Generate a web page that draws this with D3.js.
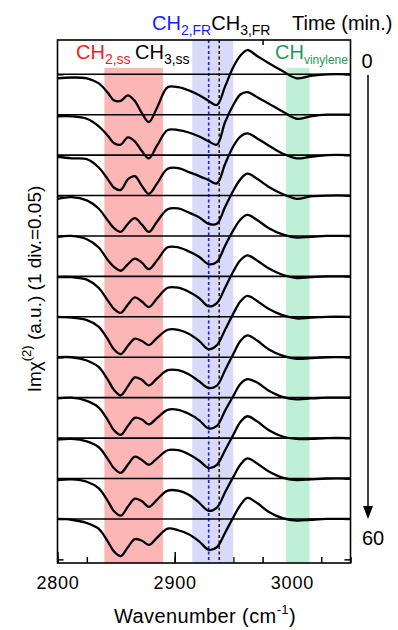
<!DOCTYPE html>
<html>
<head>
<meta charset="utf-8">
<script src="https://cdn.jsdelivr.net/npm/d3@7"></script>
<style>
  body { margin: 0; background: #fff; }
  svg { display: block; font-family: "Liberation Sans", Arial, sans-serif; }
</style>
</head>
<body>
<svg id="chart" width="398" height="630"></svg>
<script>
// wavenumber grid (cm-1) the spectra were read at
const wavenumber = [2800, 2812, 2825, 2835, 2843, 2848, 2854, 2860, 2866, 2872, 2878, 2885, 2894, 2903, 2912, 2921, 2929, 2936, 2943, 2950, 2956, 2962, 2970, 2980, 2992, 3004, 3016, 3030, 3050];

// Im chi(2) in 1e-3 a.u., top spectrum (0 min) first
const spec01 = [-5, -4, -5, -11, -23, -32, -33, -26, -33, -48, -59, -41, -16, -16, -20, -26, -33, -38, -15, 9, 23, 30, 23, 14, 4, -5, -2, 0, 0];
const spec02 = [-2, -2, -5, -14, -26, -35, -37, -28, -33, -45, -54, -38, -19, -19, -22, -27, -33, -37, -9, 12, 25, 28, 22, 14, 4, -5, -2, 0, 0];
const spec03 = [-2, -4, -5, -15, -30, -40, -43, -30, -26, -38, -48, -35, -17, -16, -21, -26, -31, -35, -11, 11, 23, 27, 21, 12, 2, -4, -2, 0, 0];
const spec04 = [-4, -2, -6, -16, -31, -40, -45, -35, -28, -36, -45, -32, -17, -16, -21, -27, -35, -35, -14, 6, 20, 27, 21, 11, 2, -4, -1, 0, 0];
const spec05 = [-1, 0, -4, -14, -30, -38, -43, -35, -28, -33, -41, -30, -14, -14, -19, -26, -35, -32, -12, 7, 20, 26, 20, 10, 2, -2, -1, 0, 0];
const spec06 = [-1, -1, -4, -14, -30, -40, -45, -35, -26, -31, -38, -27, -14, -14, -19, -27, -37, -33, -14, 6, 20, 26, 20, 10, 2, -2, -1, 0, 0];
const spec07 = [0, -1, -4, -12, -28, -40, -46, -36, -27, -30, -35, -26, -16, -16, -21, -30, -40, -35, -16, 4, 19, 26, 20, 10, 2, -2, -1, 0, 0];
const spec08 = [0, 0, -4, -12, -28, -40, -47, -36, -25, -28, -35, -26, -16, -16, -21, -30, -38, -35, -16, 4, 20, 27, 21, 10, 2, -2, -1, 0, 0];
const spec09 = [-1, 0, -4, -12, -28, -40, -46, -35, -25, -27, -33, -25, -15, -15, -20, -28, -38, -35, -16, 2, 17, 23, 19, 9, 1, -2, -1, 0, 0];
const spec10 = [-2, -1, -4, -11, -26, -37, -43, -33, -23, -27, -33, -25, -15, -15, -20, -28, -37, -33, -15, 4, 20, 27, 21, 10, 2, -1, -1, 0, 0];
const spec11 = [-2, -1, -4, -12, -28, -40, -46, -35, -25, -28, -35, -26, -15, -15, -20, -30, -40, -36, -17, 2, 17, 25, 19, 9, 1, -2, -1, 0, 0];
const spec12 = [0, -1, -5, -12, -28, -40, -46, -35, -25, -27, -32, -23, -12, -14, -19, -28, -38, -35, -17, 2, 17, 26, 20, 9, 1, -2, -1, 0, 0];
const spectra = [spec01, spec02, spec03, spec04, spec05, spec06, spec07, spec08, spec09, spec10, spec11, spec12];

const offsetStep = 0.05; // 1 div.
const bandCH2ss = [2840, 2890];
const bandFR = [2915, 2950];
const bandVinylene = [2995, 3015];
const lineCH2FR = 2929;
const lineCH3FR = 2938;
const xMajorTicks = [2800, 2900, 3000];
const xMinorTicks = d3.range(2800, 3051, 25);
const yTicks = d3.range(-0.6, 0.001, 0.05);
const timeLabels = ['0', '60'];

const svg = d3.select('#chart');
const pLeft = 57.5, pRight = 350.5, pTop = 40, pBottom = 563;

const x = d3.scaleLinear().domain([2800, 3050]).range([pLeft, pRight]);
const y = d3.scaleLinear().domain([-0.6045, 0.0424]).range([pBottom, pTop]);

// ticks first, the coloured bands sit on top of them
svg.append('g')
    .attr('transform', `translate(0,${pBottom})`)
    .call(d3.axisBottom(x).tickValues(xMinorTicks).tickSize(-6).tickFormat(''))
    .call(g => g.select('.domain').remove());
svg.append('g')
    .attr('transform', `translate(0,${pBottom})`)
    .call(d3.axisBottom(x).tickValues(xMajorTicks).tickSize(-11).tickPadding(13).tickFormat(d3.format('d')))
    .call(g => g.select('.domain').remove())
    .selectAll('text')
      .attr('font-size', 18)
      .attr('letter-spacing', 0.8)
      .attr('font-family', '"Liberation Sans", Arial, sans-serif')
      .attr('fill', '#000');
svg.append('g')
    .attr('transform', `translate(${pLeft},0)`)
    .call(d3.axisLeft(y).tickValues(yTicks).tickSize(-6).tickFormat(''))
    .call(g => g.select('.domain').remove());
svg.append('g')
    .attr('transform', `translate(${pRight},0)`)
    .call(d3.axisRight(y).tickValues(yTicks).tickSize(-6).tickFormat(''))
    .call(g => g.select('.domain').remove());
svg.append('g')
    .attr('transform', `translate(0,${pTop})`)
    .call(d3.axisTop(x).tickValues([2975]).tickSize(-5).tickFormat(''))
    .call(g => g.select('.domain').remove());
svg.selectAll('.tick line').attr('stroke', '#000').attr('stroke-width', 1.5);

// shaded bands
const bands = [
  { r: bandCH2ss, fill: '#fdb6b6', y0: y(0.008) },
  { r: bandFR, fill: '#d9d9f9', y0: pTop },
  { r: bandVinylene, fill: '#bff0d7', y0: y(0.008) }
];
svg.append('g').selectAll('rect')
    .data(bands)
  .enter().append('rect')
    .attr('x', d => x(d.r[0]))
    .attr('width', d => x(d.r[1]) - x(d.r[0]))
    .attr('y', d => d.y0)
    .attr('height', d => pBottom - d.y0)
    .attr('fill', d => d.fill);

// dashed markers
svg.append('g').selectAll('line')
    .data([{ w: lineCH2FR, c: '#1a1aff' }, { w: lineCH3FR, c: '#222' }])
  .enter().append('line')
    .attr('x1', d => x(d.w)).attr('x2', d => x(d.w))
    .attr('y1', pTop).attr('y2', pBottom)
    .attr('stroke', d => d.c)
    .attr('stroke-width', 1.6)
    .attr('stroke-dasharray', '3,2.5');

// zero lines for each spectrum
svg.append('g').selectAll('line')
    .data(spectra)
  .enter().append('line')
    .attr('x1', pLeft).attr('x2', pRight)
    .attr('y1', (d, i) => y(-offsetStep * i))
    .attr('y2', (d, i) => y(-offsetStep * i))
    .attr('stroke', '#000')
    .attr('stroke-width', 1.6);

// spectra
spectra.forEach((s, i) => {
  const line = d3.line()
      .x((d, j) => x(wavenumber[j]))
      .y(d => y(d / 1000 - offsetStep * i))
      .curve(d3.curveCatmullRom.alpha(0.5));
  svg.append('path')
      .datum(s)
      .attr('fill', 'none')
      .attr('stroke', '#000')
      .attr('stroke-width', 2.3)
      .attr('stroke-linejoin', 'round')
      .attr('d', line);
});

// frame
svg.append('rect')
    .attr('x', pLeft).attr('y', pTop)
    .attr('width', pRight - pLeft).attr('height', pBottom - pTop)
    .attr('fill', 'none')
    .attr('stroke', '#000')
    .attr('stroke-width', 1.6);

// labels with subscripts
function label(xPos, yPos, parts) {
  const t = svg.append('text').attr('x', xPos).attr('y', yPos).attr('font-size', 20);
  parts.forEach(p => {
    t.append('tspan')
        .attr('fill', p.c)
        .attr('font-size', p.sub ? (p.fs || 14) : 20)
        .attr('dy', p.dy || 0)
        .text(p.t);
  });
}
label(152, 30, [
  { t: 'CH', c: '#1a1aff' },
  { t: '2,FR', c: '#1a1aff', sub: true, dy: 5 },
  { t: 'CH', c: '#000', dy: -5 },
  { t: '3,FR', c: '#000', sub: true, dy: 5 }
]);
svg.append('text').attr('x', 292).attr('y', 30).attr('font-size', 20).text('Time (min.)');
label(76, 59, [
  { t: 'CH', c: '#f21c1c' },
  { t: '2,ss', c: '#f21c1c', sub: true, dy: 5 }
]);
label(135, 59, [
  { t: 'CH', c: '#000' },
  { t: '3,ss', c: '#000', sub: true, dy: 5 }
]);
label(275, 59, [
  { t: 'CH', c: '#1e9a55' },
  { t: 'vinylene', c: '#1e9a55', sub: true, dy: 5, fs: 12 }
]);

// time arrow
svg.append('text').attr('x', 367).attr('y', 68).attr('text-anchor', 'middle').attr('font-size', 20).text(timeLabels[0]);
svg.append('text').attr('x', 373).attr('y', 545).attr('text-anchor', 'middle').attr('font-size', 20).text(timeLabels[1]);
svg.append('line')
    .attr('x1', 368).attr('x2', 368)
    .attr('y1', 75).attr('y2', 508)
    .attr('stroke', '#000').attr('stroke-width', 1.5);
svg.append('path')
    .attr('d', 'M363,506 L373,506 L368,519 Z')
    .attr('fill', '#000');

// axis titles
const xt = svg.append('text')
    .attr('x', 205).attr('y', 623)
    .attr('text-anchor', 'middle')
    .attr('font-size', 20)
    .attr('letter-spacing', 0.4);
xt.append('tspan').text('Wavenumber (cm');
xt.append('tspan').attr('font-size', 13).attr('dy', -9).text('-1');
xt.append('tspan').attr('dy', 9).text(')');

const yt = svg.append('text')
    .attr('transform', 'translate(41,289) rotate(-90)')
    .attr('text-anchor', 'middle')
    .attr('font-size', 19);
yt.append('tspan').text('Imχ');
yt.append('tspan').attr('font-size', 13).attr('dy', -10).text('(2)');
yt.append('tspan').attr('dy', 10).text(' (a.u.) (1 div.=0.05)');
</script>
</body>
</html>
